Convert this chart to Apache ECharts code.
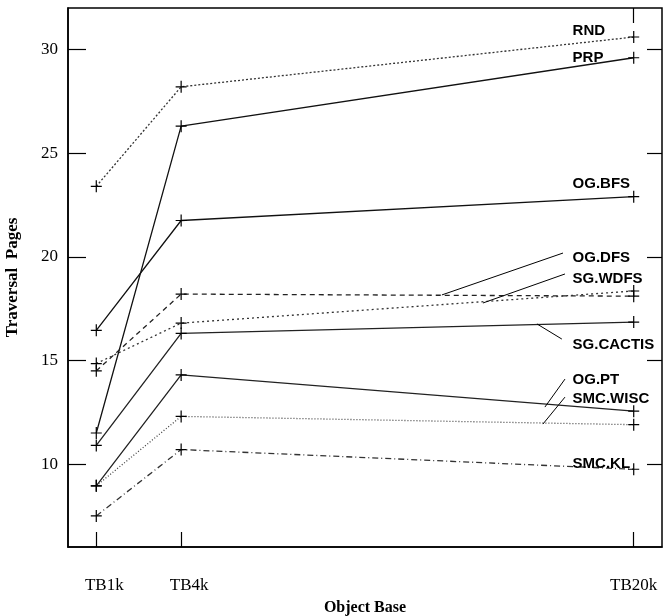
<!DOCTYPE html>
<html>
<head>
<meta charset="utf-8">
<script src="https://cdn.jsdelivr.net/npm/echarts@6/dist/echarts.min.js"></script>
<style>html,body{margin:0;padding:0;background:#fff}#c{width:663px;height:616px}</style>
</head>
<body>
<div id="c"></div>
<script>
// ---- data ----
const xValues = [1, 4, 20];
const xTickLabels = ['TB1k', 'TB4k', 'TB20k'];
const yTicks = [10, 15, 20, 25, 30];
const seriesNames = ['RND', 'PRP', 'OG.BFS', 'OG.DFS', 'SG.WDFS', 'SG.CACTIS', 'OG.PT', 'SMC.WISC', 'SMC.KL'];
const RND       = [23.4, 28.2, 30.6];
const PRP       = [11.5, 26.3, 29.6];
const OG_BFS    = [16.45, 21.75, 22.9];
const OG_DFS    = [14.5, 18.2, 18.1];
const SG_WDFS   = [14.85, 16.8, 18.35];
const SG_CACTIS = [10.9, 16.3, 16.85];
const OG_PT     = [8.95, 14.3, 12.55];
const SMC_WISC  = [8.95, 12.3, 11.9];
const SMC_KL    = [7.5, 10.7, 9.75];
const seriesValues = [RND, PRP, OG_BFS, OG_DFS, SG_WDFS, SG_CACTIS, OG_PT, SMC_WISC, SMC_KL];

// ---- annotation placement (data units) ----
const labelX = 17.82;
const labelY = [30.89, 29.59, 23.51, 19.96, 18.93, 15.74, 14.08, 13.16, 10.0];
const leaders = {
  'OG.DFS':   [[13.22, 18.16], [17.5, 20.18]],
  'SG.WDFS':  [[14.67, 17.77], [17.57, 19.17]],
  'SG.CACTIS':[[16.58, 16.76], [17.46, 16.03]],
  'OG.PT':    [[16.86, 12.75], [17.57, 14.1]],
  'SMC.WISC': [[16.79, 11.93], [17.57, 13.23]]
};

// ---- styles ----
const lineTypes = [[2, 2], 'solid', 'solid', [5, 4], [2, 3], 'solid', 'solid', [1, 2], [6, 3, 1, 3]];
const lineColors = ['#333', '#111', '#111', '#222', '#333', '#222', '#222', '#444', '#333'];
const crossPath = 'path://M0,5.4H11V6.6H0Z M4.9,0H6.1V12H4.9Z';

const series = seriesNames.map((name, i) => {
  const s = {
    name: name,
    type: 'line',
    data: xValues.map((x, j) => [x, seriesValues[i][j]]),
    symbol: crossPath,
    symbolSize: [11, 12],
    itemStyle: { color: '#000' },
    lineStyle: { color: lineColors[i], width: 1.3, type: lineTypes[i] },
    silent: true,
    markPoint: {
      symbol: 'circle', symbolSize: 1,
      itemStyle: { color: 'rgba(0,0,0,0)' },
      data: [{ coord: [labelX, labelY[i]] }],
      label: {
        show: true, position: 'right', distance: 0,
        formatter: name, color: '#000',
        fontFamily: 'Liberation Sans', fontWeight: 'bold', fontSize: 15
      },
      silent: true
    }
  };
  if (leaders[name]) {
    s.markLine = {
      silent: true, symbol: ['none', 'none'],
      label: { show: false },
      lineStyle: { color: '#000', width: 1, type: 'solid' },
      data: [[{ coord: leaders[name][0] }, { coord: leaders[name][1] }]]
    };
  }
  return s;
});

const chart = echarts.init(document.getElementById('c'));
chart.setOption({
  animation: false,
  backgroundColor: '#fff',
  grid: { left: 68, right: 1, top: 8, bottom: 69, show: true, borderColor: '#000', borderWidth: 1.5,
          backgroundColor: 'transparent', containLabel: false, outerBoundsMode: 'none' },
  xAxis: [{
    type: 'value', min: 0, max: 21, position: 'bottom',
    name: 'Object Base', nameLocation: 'middle', nameGap: 53,
    nameTextStyle: { fontFamily: 'Liberation Serif', fontWeight: 'bold', fontSize: 16, color: '#000' },
    axisLine: { show: true, onZero: false, lineStyle: { color: '#000', width: 1.5 } },
    axisTick: { show: true, inside: true, length: 15, customValues: xValues, lineStyle: { color: '#000', width: 1.2 } },
    axisLabel: { customValues: xValues, margin: 30, fontFamily: 'Liberation Serif', fontSize: 17, color: '#000',
      formatter: v => {
        const i = xValues.indexOf(v);
        if (i < 0) return '';
        return i < 2 ? '{s|' + xTickLabels[i] + '}' : xTickLabels[i];
      },
      rich: { s: { padding: [0, 0, 0, 16], fontFamily: 'Liberation Serif', fontSize: 17, color: '#000' } } },
    splitLine: { show: false }
  }, {
    type: 'value', min: 0, max: 21, position: 'top',
    axisLine: { show: false, onZero: false },
    axisTick: { show: true, inside: true, length: 15, customValues: [xValues[2]], lineStyle: { color: '#000', width: 1.2 } },
    axisLabel: { show: false },
    splitLine: { show: false }
  }],
  yAxis: [{
    type: 'value', min: 6, max: 32, position: 'left',
    name: 'Traversal  Pages', nameLocation: 'middle', nameGap: 47, nameRotate: 90,
    nameTextStyle: { fontFamily: 'Liberation Serif', fontWeight: 'bold', fontSize: 17, color: '#000' },
    axisLine: { show: true, onZero: false, lineStyle: { color: '#000', width: 1.5 } },
    axisTick: { show: true, inside: true, length: 18, customValues: yTicks, lineStyle: { color: '#000', width: 1.2 } },
    axisLabel: { customValues: yTicks, margin: 10, fontFamily: 'Liberation Serif', fontSize: 17, color: '#000' },
    splitLine: { show: false }
  }, {
    type: 'value', min: 6, max: 32, position: 'right',
    axisLine: { show: false, onZero: false },
    axisTick: { show: true, inside: true, length: 15, customValues: yTicks, lineStyle: { color: '#000', width: 1.2 } },
    axisLabel: { show: false },
    splitLine: { show: false }
  }],
  series: series
});
</script>
</body>
</html>
